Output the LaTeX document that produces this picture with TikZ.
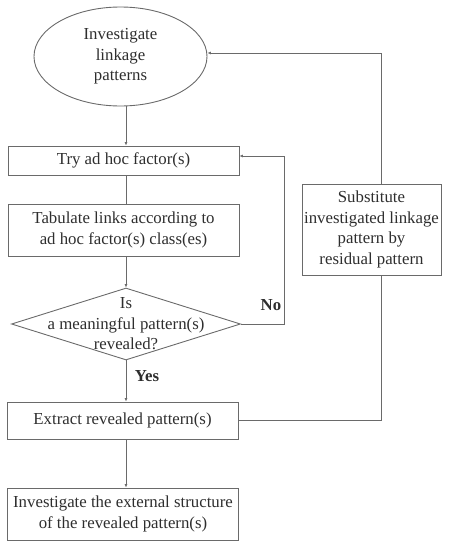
\documentclass[tikz,border=0pt]{standalone}
\usepackage{fontspec}
\setmainfont{Liberation Serif}
\usetikzlibrary{shapes.geometric,arrows.meta}
\definecolor{linegray}{HTML}{6A6A6A}
\definecolor{textgray}{HTML}{2E2E2E}
\tikzset{
  every node/.style={font=\fontsize{16.8}{20.5}\selectfont, text=textgray},
  proc/.style={draw=linegray, line width=0.9pt, rectangle, inner sep=0pt,
    align=center, minimum width=231pt},
  oval/.style={draw=linegray, line width=0.9pt, ellipse, inner sep=0pt,
    align=center, minimum width=173pt, minimum height=99pt},
  query/.style={draw=linegray, line width=0.9pt, diamond, inner sep=0pt,
    minimum width=229pt, minimum height=72pt},
  link/.style={draw=linegray, line width=0.8pt},
  arr/.style={link, -{Latex[length=3.5pt,width=3pt]}},
  tag/.style={font=\fontsize{16.8}{20.5}\selectfont\bfseries}
}
\begin{document}
\begin{tikzpicture}[x=1pt,y=-1pt]
  \useasboundingbox (0,0) rectangle (456,541);
  % main column
  \node[oval] (start) at (120.5,56.5) {Investigate\\linkage\\patterns};
  \node[proc, minimum height=29pt] (try) at (123.5,160.5) {Try ad hoc factor(s)};
  \node[proc, minimum height=52pt] (tab) at (123.5,230) {Tabulate links according to\\ad hoc factor(s) class(es)};
  \node[query] (dec) at (126,324) {};
  \node[align=center, inner sep=0pt] (dectext) at (dec.center) {Is\\a meaningful pattern(s)\\revealed?};
  \node[proc, minimum height=37pt] (ext) at (122.5,420.5) {Extract revealed pattern(s)};
  \node[proc, minimum height=52pt] (inv) at (123,514) {Investigate the external structure\\of the revealed pattern(s)};
  % side box
  \node[proc, minimum width=139pt, minimum height=91pt] (sub) at (371.5,229.5)
    {Substitute\\investigated linkage\\pattern by\\residual pattern};
  \coordinate (noturn) at (284,156);
  \coordinate (backup) at (381,53);
  % connectors
  \draw[arr] (start.south -| dec.north) -- (try.north -| dec.north);
  \draw[link] (try.south -| dec.north) -- (tab.north -| dec.north);
  \draw[arr] (tab.south -| dec.north) -- (dec.north);
  \draw[arr] (dec.east) -| (noturn) -- (noturn -| try.east);
  \draw[arr] (dec.south) -- (ext.north -| dec.south);
  \draw[arr] (ext.south -| dec.north) -- (inv.north -| dec.north);
  \draw[link] (ext.east) -| (sub.south -| backup);
  \draw[arr] (sub.north -| backup) -- (backup) -- (backup -| start.east);
  \node[tag] (nolabel) at (271,305) {No};
  \node[tag] (yeslabel) at (147,376) {Yes};
\end{tikzpicture}
\end{document}
